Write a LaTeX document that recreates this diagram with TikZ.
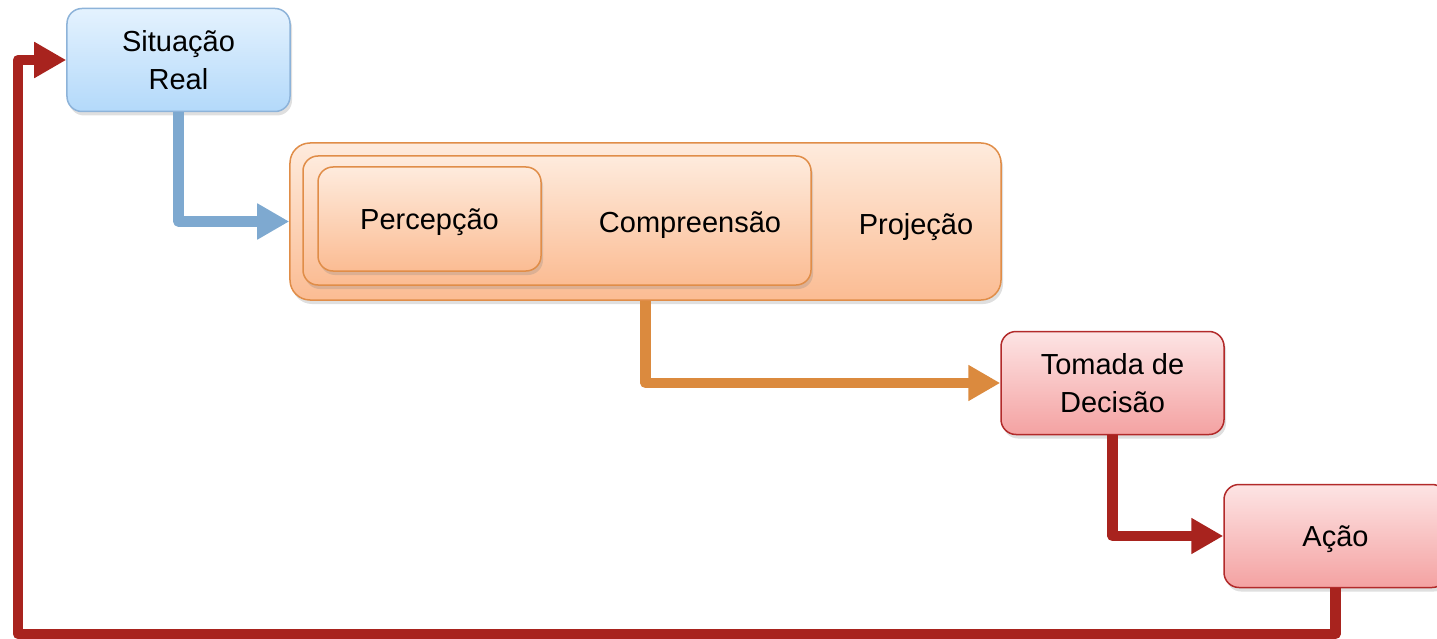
\documentclass[tikz,border=0pt]{standalone}
\usepackage{fontspec}
\setmainfont{Liberation Sans}
\usetikzlibrary{arrows.meta,shadows}

\definecolor{bluetop}{HTML}{E4F2FE}
\definecolor{bluebot}{HTML}{B3D9FA}
\definecolor{blueline}{HTML}{8DB3D9}
\definecolor{bluearrow}{HTML}{7EA9D0}
\definecolor{orangetop}{HTML}{FEEBDD}
\definecolor{orangebot}{HTML}{FBBC93}
\definecolor{orangeline}{HTML}{E08D48}
\definecolor{orangearrow}{HTML}{DB8A3E}
\definecolor{redtop}{HTML}{FDE4E4}
\definecolor{redbot}{HTML}{F4A2A2}
\definecolor{redline}{HTML}{B22A2A}
\definecolor{redarrow}{HTML}{A8231E}

\tikzset{
  box/.style={draw, line width=0.3mm, rounded corners=3mm, align=center,
    font=\fontsize{16.5}{22}\selectfont, inner sep=0pt, text depth=0pt,
    minimum width=4.46cm, minimum height=2.06cm,
    drop shadow={shadow xshift=0.4mm, shadow yshift=-0.8mm, opacity=0.25}},
  twoline/.style={text depth=-1.2mm},
  bluebox/.style={box, draw=blueline, top color=bluetop, bottom color=bluebot},
  orangebox/.style={box, draw=orangeline, top color=orangetop, bottom color=orangebot},
  redbox/.style={box, draw=redline, top color=redtop, bottom color=redbot},
  label/.style={font=\fontsize{16.5}{22}\selectfont, text depth=0pt},
  flow/.style={line width=2.1mm, line join=round, -{Triangle[length=6.4mm,width=6.8mm]}}
}

\begin{document}
\begin{tikzpicture}[x=0.2mm, y=-0.2mm]
% Fix the page to the picture size
\useasboundingbox (0,0) rectangle (1437,639);
\clip (0,0) rectangle (1437,639);

% Draw the boxes
\node[bluebox, twoline] (sit) at (178.5,60) {Situação\\Real};
\node[orangebox, rounded corners=4mm, minimum width=14.22cm, minimum height=3.14cm] (proj) at (645.5,221.5) {};
\node[label] (projtxt) at (916,224) {Projeção};
\node[orangebox, minimum width=10.16cm, minimum height=2.58cm] (comp) at (557,220.5) {};
\node[label] (comptxt) at (690,222) {Compreensão};
\node[orangebox, minimum height=2.08cm] (perc) at (429.5,219) {Percepção};
\node[redbox, twoline] (dec) at (1112.5,383) {Tomada de\\Decisão};
\node[redbox] (acao) at (1335.5,536) {Ação};
\coordinate (loop) at (18,634);

% Draw the arrows between the boxes
\draw[flow, bluearrow] (sit.south) |- (proj.west);
\draw[flow, orangearrow] (proj.south) |- (dec.west);
\draw[flow, redarrow] (dec.south) |- (acao.west);
\draw[flow, redarrow] (acao.south) |- (loop) |- (sit.west);
\end{tikzpicture}
\end{document}
